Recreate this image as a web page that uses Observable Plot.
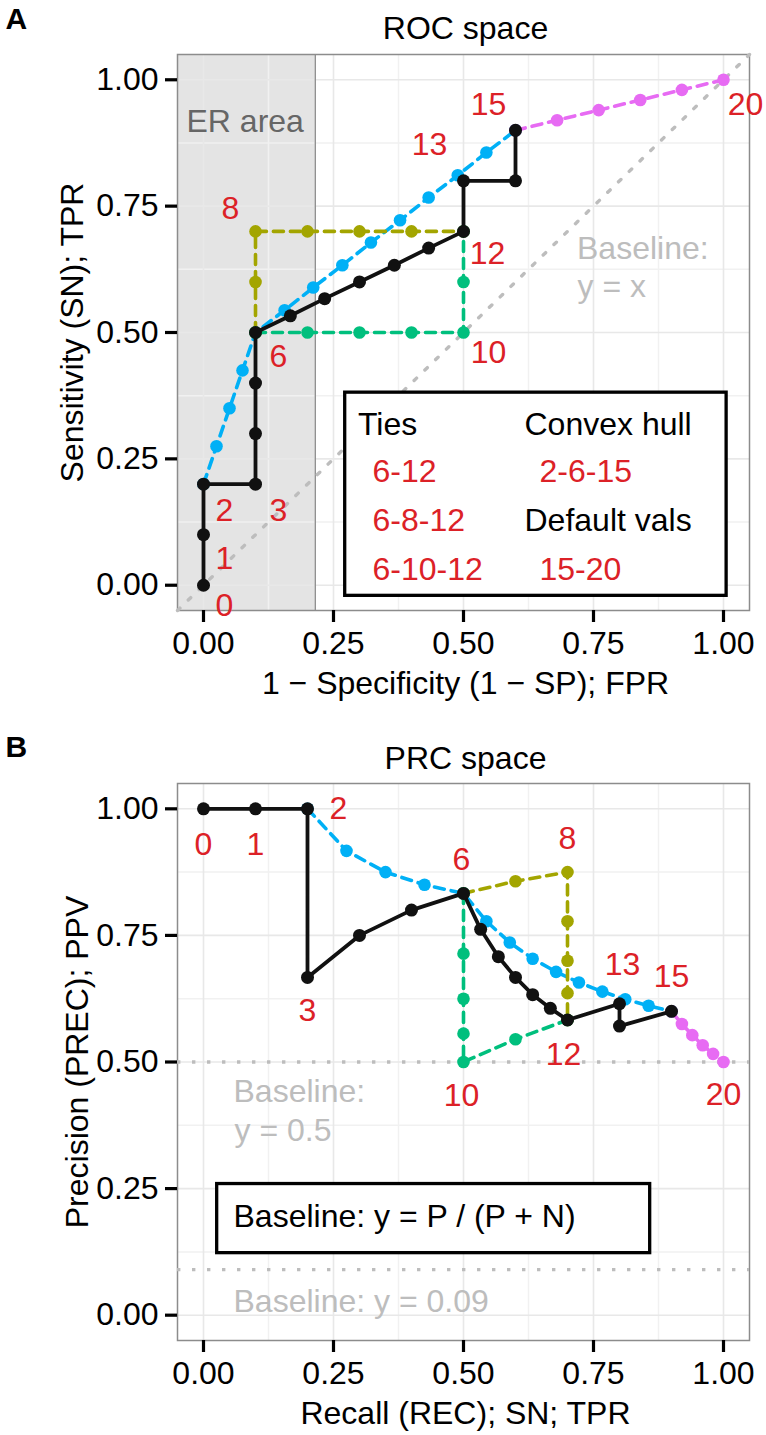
<!DOCTYPE html>
<html><head><meta charset="utf-8">
<script src="https://cdn.jsdelivr.net/npm/d3@7"></script>
<script src="https://cdn.jsdelivr.net/npm/@observablehq/plot@0.6"></script>
<style>
html,body{margin:0;padding:0;background:#fff;}
svg{display:block;}
</style></head><body>
<div id="chart"></div>
<script>
// ---------- DATA ----------
// Panel A: ROC space
const rocMainX = [0, 0, 0, 0.1, 0.1, 0.1, 0.1, 0.167, 0.233, 0.3, 0.367, 0.433, 0.5, 0.5, 0.6, 0.6];
const rocMainY = [0, 0.1, 0.2, 0.2, 0.3, 0.4, 0.5, 0.533, 0.567, 0.6, 0.633, 0.667, 0.7, 0.8, 0.8, 0.9];
const rocHullX = [0, 0.025, 0.05, 0.075, 0.1, 0.156, 0.211, 0.267, 0.322, 0.378, 0.433, 0.489, 0.544, 0.6];
const rocHullY = [0.2, 0.275, 0.35, 0.425, 0.5, 0.544, 0.589, 0.633, 0.678, 0.722, 0.767, 0.811, 0.856, 0.9];
const rocTie8X = [0.1, 0.1, 0.1, 0.2, 0.3, 0.4, 0.5];
const rocTie8Y = [0.5, 0.6, 0.7, 0.7, 0.7, 0.7, 0.7];
const rocTie10X = [0.1, 0.2, 0.3, 0.4, 0.5, 0.5, 0.5];
const rocTie10Y = [0.5, 0.5, 0.5, 0.5, 0.5, 0.6, 0.7];
const rocDefX = [0.6, 0.68, 0.76, 0.84, 0.92, 1.0];
const rocDefY = [0.9, 0.92, 0.94, 0.96, 0.98, 1.0];
const rocLabels = ["0", "1", "2", "3", "6", "8", "10", "12", "13", "15", "20"];
const rocLabelX = [0, 0, 0, 0.1, 0.1, 0.1, 0.5, 0.5, 0.5, 0.6, 1.0];
const rocLabelY = [0, 0.1, 0.2, 0.2, 0.5, 0.7, 0.5, 0.7, 0.8, 0.9, 1.0];
const erAreaEdge = 0.215;

// Panel B: PRC space
const prcMainX = [0, 0.1, 0.2, 0.2, 0.3, 0.4, 0.5, 0.533, 0.567, 0.6, 0.633, 0.667, 0.7, 0.8, 0.8, 0.9];
const prcMainY = [1, 1, 1, 0.667, 0.75, 0.8, 0.833, 0.762, 0.708, 0.667, 0.633, 0.606, 0.583, 0.615, 0.571, 0.6];
const prcHullX = [0.2, 0.275, 0.35, 0.425, 0.5, 0.544, 0.589, 0.633, 0.678, 0.722, 0.767, 0.811, 0.856, 0.9];
const prcHullY = [1, 0.917, 0.875, 0.85, 0.833, 0.778, 0.736, 0.704, 0.678, 0.657, 0.639, 0.624, 0.611, 0.6];
const prcTie8X = [0.5, 0.6, 0.7, 0.7, 0.7, 0.7, 0.7];
const prcTie8Y = [0.833, 0.857, 0.875, 0.778, 0.7, 0.636, 0.583];
const prcTie10X = [0.5, 0.5, 0.5, 0.5, 0.5, 0.6, 0.7];
const prcTie10Y = [0.833, 0.714, 0.625, 0.556, 0.5, 0.545, 0.583];
const prcDefX = [0.9, 0.92, 0.94, 0.96, 0.98, 1.0];
const prcDefY = [0.6, 0.575, 0.553, 0.533, 0.516, 0.5];
const prcLabels = ["0", "1", "2", "3", "6", "8", "10", "12", "13", "15", "20"];
const prcLabelX = [0, 0.1, 0.2, 0.2, 0.5, 0.7, 0.5, 0.7, 0.8, 0.9, 1.0];
const prcLabelY = [1, 1, 1, 0.667, 0.833, 0.875, 0.5, 0.583, 0.615, 0.6, 0.5];
const prcBaselines = [0.5, 0.09];

// Ticks
const majorTicks = [0, 0.25, 0.5, 0.75, 1];
const minorTicks = [0.125, 0.375, 0.625, 0.875];
const axisDomain = [-0.05, 1.05];

// ---------- STYLE ----------
const FONT = "'Liberation Sans', Arial, Helvetica, sans-serif";
const FS = 32;
const RED = "#dc2127";
const GREY_TXT = "#bdbdbd";
const C_HULL = "#00B0F6", C_TIE8 = "#A3A500", C_TIE10 = "#00BF7D", C_DEF = "#E76BF3", C_MAIN = "#111111";
const DASH = "10,7";
const DOTS = "3.4,11.6";
const rocLabelDx = [21, 21, 21, 23, 23, -25, 25, 24, -34, -27, 22];
const rocLabelDy = [21, 24, 27, 27, 24, -23, 20, 22, -36, -26, 25];
const prcLabelDx = [0, 0, 31, 0, -2, 0, -2, -4, 3, 0, 0];
const prcLabelDy = [36, 36, 0, 33, -34, -33, 34, 35, -39, -35, 33];

const pts = (xs, ys) => xs.map((x, i) => ({x, y: ys[i]}));
const fmt = d3.format(".2f");

function gridMarks() {
  return [
    Plot.gridX({ticks: minorTicks, stroke: "#f1f1f1", strokeOpacity: 1, strokeWidth: 1.5}),
    Plot.gridY({ticks: minorTicks, stroke: "#f1f1f1", strokeOpacity: 1, strokeWidth: 1.5}),
    Plot.gridX({ticks: majorTicks, stroke: "#e8e8e8", strokeOpacity: 1, strokeWidth: 1.6}),
    Plot.gridY({ticks: majorTicks, stroke: "#e8e8e8", strokeOpacity: 1, strokeWidth: 1.6})
  ];
}
function seriesMarks(xs, ys, color, dashed, r) {
  const d = pts(xs, ys);
  return [
    Plot.line(d, {x: "x", y: "y", stroke: color, strokeWidth: dashed ? 3.6 : 3.8, strokeDasharray: dashed ? DASH : null}),
    Plot.dot(d, {x: "x", y: "y", r: r, fill: color})
  ];
}
function labelMarks(texts, xs, ys, dxs, dys) {
  return texts.map((t, i) => Plot.text([{x: xs[i], y: ys[i], t}], {
    x: "x", y: "y", text: "t", dx: dxs[i], dy: dys[i], fill: RED, fontSize: FS
  }));
}
function note(str, dx, dy, opts = {}) {
  return Plot.text([str], Object.assign({text: d => d, frameAnchor: "top-left", dx, dy,
    textAnchor: "start", lineAnchor: "bottom", fontSize: FS, fill: "black"}, opts));
}
function axes() {
  return [
    Plot.axisX({ticks: majorTicks, tickFormat: fmt, tickSize: 12, tickPadding: 9, fontSize: FS, strokeWidth: 3.2, label: null}),
    Plot.axisY({ticks: majorTicks, tickFormat: fmt, tickSize: 12, tickPadding: 7, fontSize: FS, strokeWidth: 3.2, label: null})
  ];
}
function titles(letter, title, xTitle, yTitle, letterDy, titleDy, xDy, yDx) {
  return [
    note(letter, -172, letterDy, {fontWeight: "bold", fontSize: 30}),
    Plot.text([title], {text: d => d, frameAnchor: "top", textAnchor: "middle", dx: 2, dy: titleDy, lineAnchor: "bottom", fontSize: FS}),
    Plot.text([xTitle], {text: d => d, frameAnchor: "bottom", textAnchor: "middle", dx: 2, dy: xDy, lineAnchor: "bottom", fontSize: FS}),
    Plot.text([yTitle], {text: d => d, frameAnchor: "left", textAnchor: "middle", dx: yDx, rotate: -90, lineAnchor: "bottom", fontSize: FS})
  ];
}

// ---------- PANEL A: ROC ----------
const roc = Plot.plot({
  width: 766, height: 720,
  marginLeft: 177, marginRight: 17, marginTop: 54, marginBottom: 110,
  x: {domain: axisDomain, label: null},
  y: {domain: axisDomain, label: null},
  style: {fontFamily: FONT, background: "white", overflow: "visible"},
  marks: [
    Plot.rect([0], {x1: axisDomain[0], x2: erAreaEdge, y1: axisDomain[0], y2: axisDomain[1], fill: "#e4e4e4"}),
    ...gridMarks(),
    Plot.ruleX([erAreaEdge], {stroke: "#8c8c8c", strokeWidth: 1.3}),
    Plot.frame({stroke: "#8c8c8c", strokeWidth: 1.5}),
    Plot.line(axisDomain.map(v => ({x: v, y: v})), {x: "x", y: "y", stroke: GREY_TXT, strokeWidth: 3.4, strokeDasharray: DOTS}),
    ...seriesMarks(rocHullX, rocHullY, C_HULL, true, 6.3),
    ...seriesMarks(rocDefX, rocDefY, C_DEF, true, 6.3),
    ...seriesMarks(rocTie8X, rocTie8Y, C_TIE8, true, 6.3),
    ...seriesMarks(rocTie10X, rocTie10Y, C_TIE10, true, 6.3),
    ...seriesMarks(rocMainX, rocMainY, C_MAIN, false, 6.5),
    Plot.rect([0], {x1: 0.2725, x2: 1.006, y1: -0.021, y2: 0.381, fill: "white", stroke: "black", strokeWidth: 3.3}),
    note("Ties", 180.5, 380),
    note("Convex hull", 347, 380),
    note("6-12", 195, 427.7, {fill: RED}),
    note("6-8-12", 195, 476.7, {fill: RED}),
    note("6-10-12", 195, 525, {fill: RED}),
    note("2-6-15", 362, 427.7, {fill: RED}),
    note("Default vals", 347, 476.7),
    note("15-20", 362, 525, {fill: RED}),
    note("ER area", 9, 77.7, {fill: "#666666"}),
    note("Baseline:", 399.5, 204.3, {fill: GREY_TXT}),
    note("y = x", 400, 242.7, {fill: GREY_TXT}),
    ...labelMarks(rocLabels, rocLabelX, rocLabelY, rocLabelDx, rocLabelDy),
    ...axes(),
    ...titles("A", "ROC space", "1 \u2212 Specificity (1 \u2212 SP); FPR", "Sensitivity (SN); TPR", -25.7, -15.7, 83.3, -94.5)
  ]
});

// ---------- PANEL B: PRC ----------
const prc = Plot.plot({
  width: 766, height: 715,
  marginLeft: 177, marginRight: 17, marginTop: 63, marginBottom: 95,
  x: {domain: axisDomain, label: null},
  y: {domain: axisDomain, label: null},
  style: {fontFamily: FONT, background: "white", overflow: "visible"},
  marks: [
    ...gridMarks(),
    Plot.frame({stroke: "#8c8c8c", strokeWidth: 1.5}),
    Plot.ruleY(prcBaselines, {stroke: GREY_TXT, strokeWidth: 3.4, strokeDasharray: DOTS}),
    ...seriesMarks(prcHullX, prcHullY, C_HULL, true, 6.3),
    ...seriesMarks(prcDefX, prcDefY, C_DEF, true, 6.3),
    ...seriesMarks(prcTie8X, prcTie8Y, C_TIE8, true, 6.3),
    ...seriesMarks(prcTie10X, prcTie10Y, C_TIE10, true, 6.3),
    ...seriesMarks(prcMainX, prcMainY, C_MAIN, false, 6.5),
    Plot.rect([0], {x1: 0.0263, x2: 0.859, y1: 0.1225, y2: 0.259, fill: "white", stroke: "black", strokeWidth: 3.3}),
    note("Baseline: y = P / (P + N)", 56, 443.7),
    note("Baseline:", 56, 318.7, {fill: GREY_TXT}),
    note("y = 0.5", 57, 357, {fill: GREY_TXT}),
    note("Baseline: y = 0.09", 56, 528.7, {fill: GREY_TXT}),
    ...labelMarks(prcLabels, prcLabelX, prcLabelY, prcLabelDx, prcLabelDy),
    ...axes(),
    ...titles("B", "PRC space", "Recall (REC); SN; TPR", "Precision (PREC); PPV", -26.3, -14.7, 83.3, -90)
  ]
});

const host = document.getElementById("chart");
host.appendChild(roc);
host.appendChild(prc);
</script>
</body></html>
